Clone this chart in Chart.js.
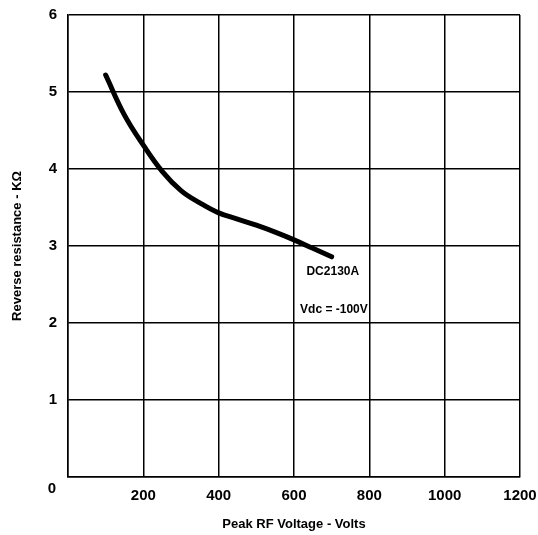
<!DOCTYPE html>
<html>
<head>
<meta charset="utf-8">
<script src="https://cdn.jsdelivr.net/npm/chart.js@4"></script>
<style>
  html, body { margin: 0; padding: 0; background: #fff; }
  #chart { display: block; }
</style>
</head>
<body>
<canvas id="chart" width="538" height="535"></canvas>
<script>
// data
const voltage = [100, 150, 200, 250, 300, 350, 400, 450, 500, 550, 600, 650, 700];
const resistance = [5.22, 4.70, 4.31, 3.97, 3.72, 3.56, 3.43, 3.35, 3.27, 3.18, 3.08, 2.97, 2.86];

const xTicks = [0, 200, 400, 600, 800, 1000, 1200];
const yTicks = [0, 1, 2, 3, 4, 5, 6];

// notes placed in data units
const notes = [
    { text: 'DC2130A', x: 703, y: 2.67 },
    { text: 'Vdc = -100V', x: 706, y: 2.17 }
];

const FONT = '"Liberation Sans", Arial, sans-serif';

const notesPlugin = {
    id: 'notes',
    afterDraw(chart) {
        const ctx = chart.ctx;
        const xs = chart.scales.x, ys = chart.scales.y;
        ctx.save();
        ctx.fillStyle = '#000';
        ctx.textAlign = 'center';
        ctx.textBaseline = 'middle';
        ctx.font = 'bold 12px ' + FONT;
        notes.forEach(n => {
            ctx.fillText(n.text, xs.getPixelForValue(n.x), ys.getPixelForValue(n.y));
        });
        // the shared origin label sits below-left of the corner
        ctx.font = 'bold 15px ' + FONT;
        ctx.fillText('0', xs.left - 16, ys.bottom + 12);
        ctx.restore();
    }
};

const ctx = document.getElementById('chart').getContext('2d');
window.chartInstance = new Chart(ctx, {
    type: 'line',
    data: {
        datasets: [{
            data: voltage.map((v, i) => ({ x: v, y: resistance[i] })),
            borderColor: '#000',
            borderWidth: 5,
            borderCapStyle: 'round',
            tension: 0.4,
            pointRadius: 0,
            fill: false
        }]
    },
    options: {
        responsive: false,
        animation: false,
        layout: { padding: { top: 15, right: 18, left: 0, bottom: 0 } },
        plugins: { legend: { display: false }, tooltip: { enabled: false } },
        scales: {
            x: {
                type: 'linear',
                min: 0,
                max: 1200,
                afterBuildTicks: s => { s.ticks = xTicks.map(v => ({ value: v })); },
                afterFit: s => { s.height = 58; s.paddingLeft = 0; s.paddingRight = 0; },
                grid: { color: '#000', lineWidth: 1.5, drawTicks: false },
                border: { color: '#000', width: 1.5 },
                ticks: {
                    padding: 10,
                    color: '#000',
                    font: { family: FONT, size: 15, weight: 'bold' },
                    callback: v => v === 0 ? '' : String(v)
                },
                title: {
                    display: true,
                    text: 'Peak RF Voltage - Volts',
                    color: '#000',
                    font: { family: FONT, size: 13, weight: 'bold' },
                    padding: { top: 0, bottom: 3 }
                }
            },
            y: {
                type: 'linear',
                min: 0,
                max: 6,
                afterBuildTicks: s => { s.ticks = yTicks.map(v => ({ value: v })); },
                afterFit: s => { s.width = 68; s.paddingTop = 0; s.paddingBottom = 0; },
                grid: { color: '#000', lineWidth: 1.5, drawTicks: false },
                border: { color: '#000', width: 1.5 },
                ticks: {
                    padding: 11,
                    color: '#000',
                    font: { family: FONT, size: 15, weight: 'bold' },
                    callback: v => v === 0 ? '' : String(v)
                },
                title: {
                    display: true,
                    text: 'Reverse resistance - KΩ',
                    color: '#000',
                    font: { family: FONT, size: 13, weight: 'bold' },
                    padding: { top: 10, bottom: 0 }
                }
            }
        }
    },
    plugins: [notesPlugin]
});
</script>
</body>
</html>
